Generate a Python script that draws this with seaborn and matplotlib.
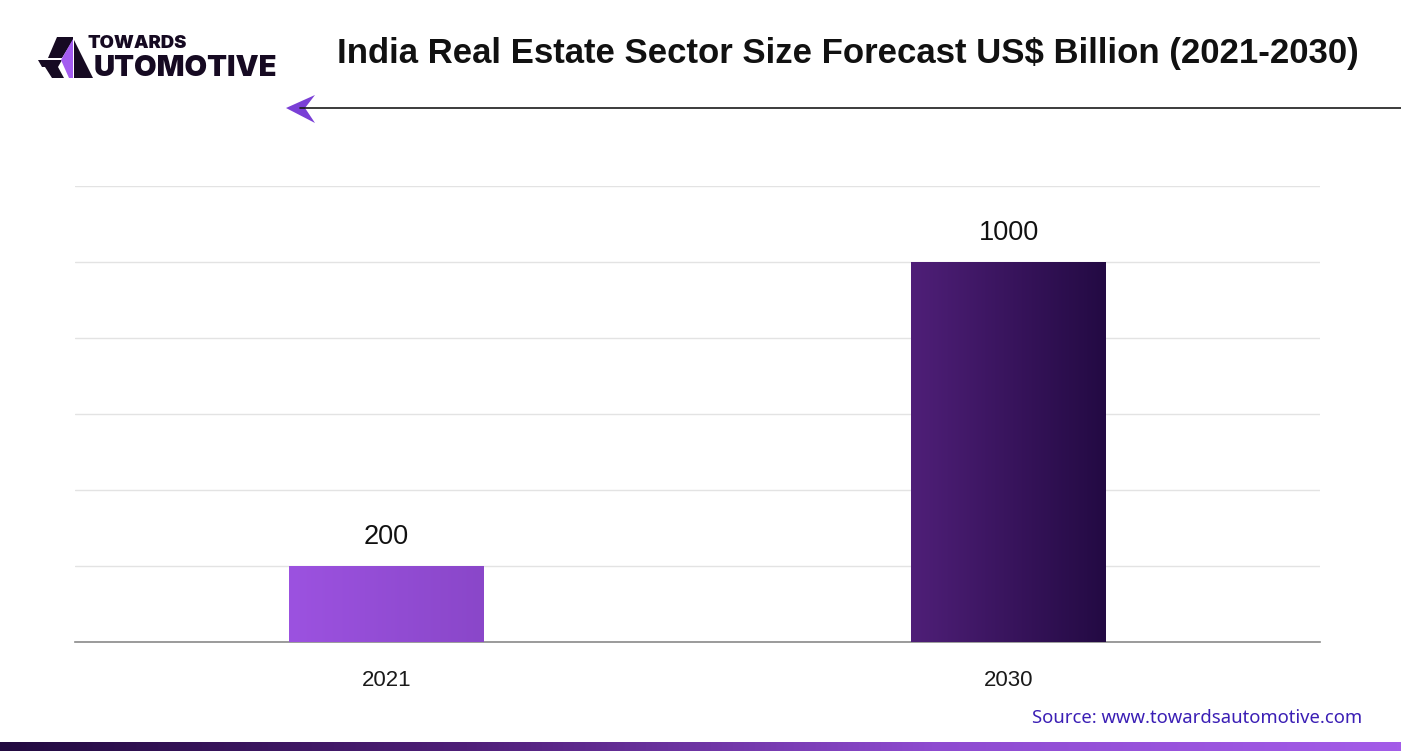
import numpy as np
import pandas as pd
import matplotlib
matplotlib.use("Agg")
import matplotlib.pyplot as plt
from matplotlib.colors import LinearSegmentedColormap
from matplotlib.patches import Polygon
import seaborn as sns

years = ["2021", "2030"]
values = [200, 1000]
value_labels = ["200", "1000"]
title = "India Real Estate Sector Size Forecast US$ Billion (2021-2030)"
source = "Source: www.towardsautomotive.com"
bar_gradients = [("#9C52E0", "#8A47C9"), ("#4F1F78", "#230A43")]

sns.set_theme(style="white")
plt.rcParams["font.family"] = ["Liberation Sans", "DejaVu Sans"]

fig = plt.figure(figsize=(14.01, 7.51), dpi=100)
W, H = 1401, 751
ax = fig.add_axes([75 / W, 1 - 642 / H, (1320 - 75) / W, (642 - 186) / H])

df = pd.DataFrame({"year": years, "value": values})
sns.barplot(data=df, x="year", y="value", ax=ax, width=0.313, color="#9C52E0",
            edgecolor="none", zorder=3)
ax.set_xlim(-0.5, 1.5)
ax.set_ylim(0, 1200)
ax.set_yticks(np.arange(0, 1201, 200))
ax.set_yticklabels([])
ax.yaxis.grid(True, color="#E3E3E3", linewidth=1)
ax.set_axisbelow(True)
for s in ["top", "right", "left"]:
    ax.spines[s].set_visible(False)
ax.spines["bottom"].set_color("#8A8A8A")
ax.spines["bottom"].set_linewidth(1.2)
ax.set_xlabel("")
ax.set_ylabel("")
ax.tick_params(axis="x", length=0, pad=20, labelsize=16, labelcolor="#1a1a1a")
ax.tick_params(axis="y", length=0)

# gradients on bars
for patch, (c0, c1), lab in zip(ax.patches, bar_gradients, value_labels):
    x0, y0 = patch.get_x(), patch.get_y()
    w, h = patch.get_width(), patch.get_height()
    cmap = LinearSegmentedColormap.from_list("g", [c0, c1])
    grad = np.linspace(0, 1, 256).reshape(1, -1)
    im = ax.imshow(grad, cmap=cmap, aspect="auto", extent=[x0, x0 + w, y0, y0 + h],
                   zorder=4)
    im.set_clip_path(patch)
    patch.set_facecolor("none")
    ax.text(x0 + w / 2, y0 + h + 77, lab, ha="center", va="center", fontsize=19.5,
            color="#111111", zorder=5)
ax.set_xlim(-0.5, 1.5)
ax.set_ylim(0, 1200)

# title
fig.text(848 / W, 1 - 53 / H, title, ha="center", va="center", fontsize=25,
         fontweight="bold", color="#111111")

# arrow line
fig.add_artist(plt.Line2D([300 / W, 1.0], [1 - 108 / H, 1 - 108 / H],
                          color="#1a1a1a", linewidth=1.2, transform=fig.transFigure))
arrow = Polygon([[286 / W, 1 - 108 / H], [315 / W, 1 - 95 / H], [305 / W, 1 - 108 / H],
                 [315 / W, 1 - 123 / H]], closed=True, facecolor="#7A3FD6",
                edgecolor="none", transform=fig.transFigure)
fig.add_artist(arrow)

# logo
dark = "#160A22"
def px(pts):
    return [[x / W, 1 - y / H] for x, y in pts]
logo_shapes = [
    (px([(57, 37), (73, 37), (73, 40), (62, 58), (48, 58)]), dark),
    (px([(38, 60), (62, 60), (58, 67), (42, 67)]), dark),
    (px([(45, 67), (58, 67), (64, 78), (52, 78)]), dark),
    (px([(74, 40), (93, 78), (74, 78)]), dark),
    (px([(73, 39), (61, 60), (69, 78), (73, 78)]), "#A45CF0"),
]
for pts, col in logo_shapes:
    fig.add_artist(Polygon(pts, closed=True, facecolor=col, edgecolor="none",
                           transform=fig.transFigure))
fig.text(88 / W, 1 - 43 / H, "TOWARDS", ha="left", va="center", fontsize=13.3,
         fontweight="black", color=dark, family=["Inter", "DejaVu Sans"])
fig.text(94 / W, 1 - 68 / H, "UTOMOTIVE", ha="left", va="center", fontsize=21,
         fontweight="black", color=dark, family=["Inter", "DejaVu Sans"])

# source
fig.text(1362 / W, 1 - 718 / H, source, ha="right", va="center", fontsize=13.3,
         color="#3B1FB5", family=["Noto Sans", "DejaVu Sans"])

# bottom gradient strip
bax = fig.add_axes([0, 0, 1, 9 / H])
bcmap = LinearSegmentedColormap.from_list("b", ["#220A40", "#4F1F78", "#8E4BD0", "#A35CE8"])
bax.imshow(np.linspace(0, 1, 512).reshape(1, -1), cmap=bcmap, aspect="auto",
           extent=[0, 1, 0, 1])
bax.set_axis_off()

fig.savefig("out.png", dpi=100)
